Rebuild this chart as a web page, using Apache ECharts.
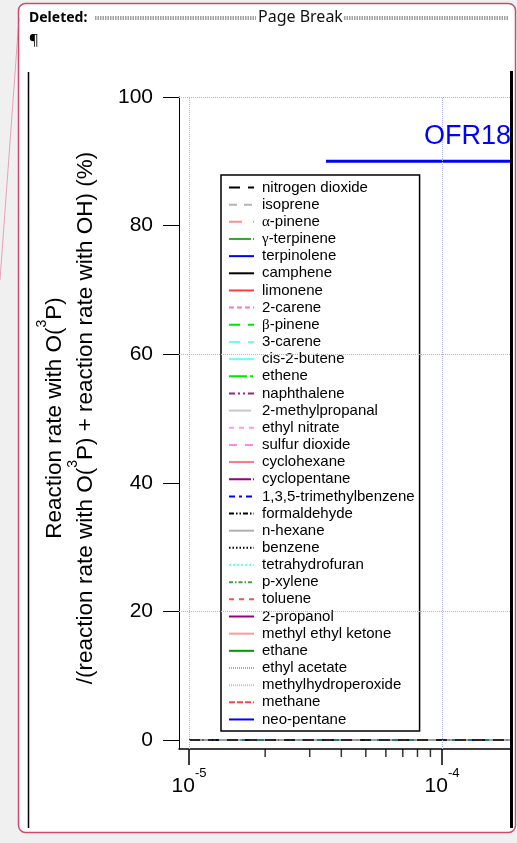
<!DOCTYPE html>
<html>
<head>
<meta charset="utf-8">
<script src="https://cdn.jsdelivr.net/npm/echarts@6/dist/echarts.min.js"></script>
<style>
  html, body { margin: 0; padding: 0; background: #f0f0f0; }
  #chart { width: 517px; height: 843px; }
</style>
</head>
<body>
<div id="chart"></div>
<script>
// Species shown in the legend, in legend order
const species = [
  'nitrogen dioxide', 'isoprene', 'α-pinene', 'γ-terpinene', 'terpinolene',
  'camphene', 'limonene', '2-carene', 'β-pinene', '3-carene', 'cis-2-butene',
  'ethene', 'naphthalene', '2-methylpropanal', 'ethyl nitrate', 'sulfur dioxide',
  'cyclohexane', 'cyclopentane', '1,3,5-trimethylbenzene', 'formaldehyde',
  'n-hexane', 'benzene', 'tetrahydrofuran', 'p-xylene', 'toluene', '2-propanol',
  'methyl ethyl ketone', 'ethane', 'ethyl acetate', 'methylhydroperoxide',
  'methane', 'neo-pentane'
];
const speciesColors = [
  '#000000', '#b4b4b4', '#ff8c8c', '#33aa33', '#0000ff',
  '#000000', '#ff3b3b', '#ff6ee0', '#00e600', '#66ffff', '#66ffff',
  '#00e600', '#a0207e', '#c8c8c8', '#ff99ee', '#ff88ee',
  '#ff7777', '#990080', '#0000ff', '#000000',
  '#b0b0b0', '#000000', '#66ffff', '#33aa33', '#ff5050', '#990080',
  '#ff9999', '#009900', '#33ff33', '#ff99ff',
  '#ff4444', '#0000ff'
];
const speciesDash = [
  [11, 8], [8, 7], [13, 11, 3, 11], [22, 2, 3, 2], 'solid',
  'solid', 'solid', [5, 3], [11, 8], [11, 8], 'solid',
  [18, 3, 3, 3], [6, 3, 2, 3, 2, 3], [22, 3, 2, 3], [5, 5], [8, 8],
  'solid', [22, 2, 2, 2], [6, 4, 3, 4], [5, 2, 1.5, 2, 1.5, 2],
  'solid', [1.5, 2], [2, 2], [4, 2, 1.5, 2], [5, 5], 'solid',
  'solid', 'solid', [1, 1], [1, 1],
  [6, 2], 'solid'
];
const speciesWidth = [
  1.5, 1.5, 1.5, 1.5, 2,
  2, 1.5, 1.5, 1.5, 1.5, 1.5,
  1.5, 1.5, 1.5, 1.5, 1.5,
  1.5, 2, 1.5, 1.5,
  2, 1.5, 1.5, 1.5, 1.5, 2,
  2, 2, 1.5, 1.5,
  1.5, 1
];

// x: exposure, y: O(3P) share of the total reaction rate (%) for every species
const exposure = [1e-5, 2e-5, 5e-5, 1e-4, 2e-4];
const o3pFraction = [0, 0, 0, 0, 0];

// OFR185 condition range marker
const ofrLabel = 'OFR185';
const ofrRangeX = [3.48e-5, 2e-4];
const ofrRangeY = [90, 90];

// Axis ticks and grid
const yMin = -1.4;
const yMax = 100;
const xMin = 9.13e-6;
const xMax = 1.874e-4;
const yTicks = [0, 20, 40, 60, 80, 100];
const yGrid = [20, 60, 100];
const xMajorTicks = [1e-5, 1e-4];
const xMinorTicks = [2e-5, 3e-5, 4e-5, 5e-5, 6e-5, 7e-5, 8e-5, 9e-5];
const xGrid = [1e-5, 1e-4];

const yTitleLine1 = '{n|Reaction rate with O(}{s|3}{n|P)}';
const yTitleLine2 = '{n|/(reaction rate with O(}{s|3}{n|P) + reaction rate with OH) (%)}';

const SANS = '"Liberation Sans", Arial, sans-serif';
const UI = '"Noto Sans", "Open Sans", sans-serif';

const chart = echarts.init(document.getElementById('chart'), null, { renderer: 'canvas' });

const speciesSeries = species.map((name, i) => ({
  type: 'line',
  name: name,
  data: exposure.map((x, k) => [x, o3pFraction[k]]),
  symbol: 'none',
  showSymbol: false,
  silent: true,
  lineStyle: { color: speciesColors[i], width: speciesWidth[i], type: speciesDash[i] },
  itemStyle: { color: speciesColors[i] },
  xAxisIndex: 0,
  yAxisIndex: 0
}));

const titleRich = {
  n: { fontFamily: SANS, fontSize: 22.5, fill: '#000', padding: [8, 0, 0, 0], verticalAlign: 'bottom' },
  s: { fontFamily: SANS, fontSize: 14, fill: '#000', verticalAlign: 'top' }
};

const gridColor = '#aeaeff';
const headerRule = { stroke: '#444', lineWidth: 1, lineDash: [1.5, 1] };

const option = {
  animation: false,
  backgroundColor: '#f0f0f0',
  grid: { left: 179, right: 6, top: 97, bottom: 94, containLabel: false, outerBoundsMode: 'none' },
  xAxis: {
    type: 'log', logBase: 10, min: xMin, max: xMax,
    axisLine: { show: true, onZero: false, lineStyle: { color: '#000', width: 1.5 } },
    axisTick: { show: true, customValues: xMajorTicks, length: 16, lineStyle: { color: '#000', width: 1.5 } },
    axisLabel: {
      show: true, customValues: xMajorTicks, margin: 18, color: '#000',
      formatter: v => '{b|10}{s|' + Math.round(Math.log10(v)) + '}',
      rich: {
        b: { fontFamily: SANS, fontSize: 21, color: '#000', padding: [9, 0, 0, 0], verticalAlign: 'bottom' },
        s: { fontFamily: SANS, fontSize: 13, color: '#000', verticalAlign: 'top' }
      }
    },
    splitLine: { show: false }, minorTick: { show: false }
  },
  yAxis: {
    type: 'value', min: yMin, max: yMax,
    axisLine: { show: true, onZero: false, lineStyle: { color: '#000', width: 1 } },
    axisTick: { show: true, customValues: yTicks, length: 16, lineStyle: { color: '#000', width: 1 } },
    axisLabel: { customValues: yTicks, fontFamily: SANS, fontSize: 21, color: '#000', margin: 26 },
    splitLine: { show: false }
  },
  legend: {
    orient: 'vertical', left: 221, top: 175,
    itemWidth: 25, itemHeight: 14, itemGap: 2.16,
    padding: [5, 5, 4, 7],
    borderColor: '#000', borderWidth: 1.5, backgroundColor: '#fff',
    selectedMode: false,
    itemStyle: { opacity: 0 },
    data: species,
    formatter: name => name.replace(/^([αβγ])/, '{gk|$1}'),
    textStyle: {
      fontFamily: SANS, fontSize: 15, color: '#000', padding: [0, 0, 0, 3],
      rich: { gk: { fontFamily: '"Liberation Serif", serif', fontSize: 15, color: '#000' } }
    }
  },
  series: [
    {
      type: 'line', name: 'grid', data: [], silent: true, z: 1,
      markLine: {
        silent: true, symbol: 'none', label: { show: false },
        lineStyle: { color: gridColor, type: [1, 1], width: 1 },
        data: yGrid.map(v => ({ yAxis: v })).concat(
          xGrid.map(v => [{ coord: [v, yMin] }, { coord: [v, yMax] }])
        )
      }
    },
    {
      // minor ticks of the log axis, hung below the axis line
      type: 'scatter', name: 'minor ticks', silent: true, clip: false, z: 5,
      data: xMinorTicks.map(v => [v, yMin]),
      symbol: 'rect', symbolSize: [1.5, 8], symbolOffset: [0, 4],
      itemStyle: { color: '#000' }
    },
    {
      type: 'line', name: ofrLabel, symbol: 'none', silent: true, z: 3,
      data: ofrRangeX.map((x, k) => [x, ofrRangeY[k]]),
      lineStyle: { color: '#0000ff', width: 3 }
    }
  ].concat(speciesSeries.slice().reverse()),
  graphic: {
    elements: [
      // page box
      { type: 'rect', z: -10, shape: { x: 18.5, y: 3.5, width: 497, height: 829, r: 7 },
        style: { fill: '#ffffff', stroke: null } },
      // comment connector
      { type: 'line', z: -5, shape: { x1: 19, y1: 18, x2: 0, y2: 280 },
        style: { stroke: '#e6a3b4', lineWidth: 1 } },
      // header: Deleted / Page Break
      { type: 'text', z: 10, x: 29, y: 18,
        style: { text: 'Deleted:', font: 'bold 14px ' + UI, fill: '#000', align: 'left', verticalAlign: 'middle' } },
      { type: 'line', z: 10, shape: { x1: 95, y1: 17, x2: 256, y2: 17 }, style: headerRule },
      { type: 'line', z: 10, shape: { x1: 95, y1: 19, x2: 256, y2: 19 }, style: headerRule },
      { type: 'text', z: 10, x: 258, y: 17,
        style: { text: 'Page Break', font: '16px ' + UI, fill: '#111', align: 'left', verticalAlign: 'middle' } },
      { type: 'line', z: 10, shape: { x1: 344, y1: 17, x2: 508, y2: 17 }, style: headerRule },
      { type: 'line', z: 10, shape: { x1: 344, y1: 19, x2: 508, y2: 19 }, style: headerRule },
      { type: 'text', z: 10, x: 29, y: 41,
        style: { text: '¶', font: '15px ' + UI, fill: '#000', align: 'left', verticalAlign: 'middle' } },
      // picture frame edge
      { type: 'line', z: 60, shape: { x1: 28.5, y1: 72, x2: 28.5, y2: 828 },
        style: { stroke: '#000', lineWidth: 1.5 } },
      // y axis title, two rotated lines centred on the plot
      { type: 'text', z: 10, x: 51, y: 418, rotation: Math.PI / 2,
        style: { text: yTitleLine1, rich: titleRich, align: 'center', verticalAlign: 'middle' } },
      { type: 'text', z: 10, x: 82, y: 418, rotation: Math.PI / 2,
        style: { text: yTitleLine2, rich: titleRich, align: 'center', verticalAlign: 'middle' } },
      // OFR185 label
      { type: 'text', z: 50, x: 424, y: 137,
        style: { text: ofrLabel, font: '27px ' + SANS, fill: '#0000ff', align: 'left', verticalAlign: 'middle' } },
      { type: 'rect', z: 60, shape: { x: 510, y: 71, width: 3, height: 757 },
        style: { fill: '#000' } },
      { type: 'rect', z: 70, shape: { x: 513, y: 40, width: 4, height: 790 },
        style: { fill: '#ffffff' } },
      { type: 'rect', z: 100, shape: { x: 18.5, y: 3.5, width: 497, height: 829, r: 7 },
        style: { fill: null, stroke: '#cf4a68', lineWidth: 1.5 } }
    ]
  }
};

chart.setOption(option);
</script>
</body>
</html>
